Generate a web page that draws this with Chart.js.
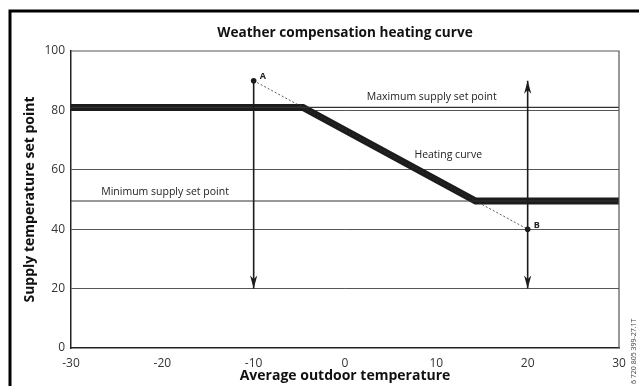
<!DOCTYPE html>
<html>
<head>
<meta charset="utf-8">
<script src="https://cdn.jsdelivr.net/npm/chart.js@4.4.1/dist/chart.umd.min.js"></script>
<style>
  html, body { margin: 0; padding: 0; background: #fff; }
</style>
</head>
<body>
<canvas id="curveChart" width="639" height="386"></canvas>
<script>
// axis ranges / ticks
const xTicks = [-30, -20, -10, 0, 10, 20, 30];
const yTicks = [0, 20, 40, 60, 80, 100];

// set points
const maxSupply = 81;
const minSupply = 49.5;

// heating curve (clipped between the set points)
const curveX = [-30, -4.6, 14.3, 30];
const curveY = [81, 81, 49.5, 49.5];

// design points A and B of the unclipped curve
const designX = [-10, 20];
const designY = [90, 40];
const designLabels = ['A', 'B'];

// vertical arrows
const arrowLeftX = [-10, -10];
const arrowLeftY = [90, 20];
const arrowRightX = [20, 20];
const arrowRightY = [90, 20];

const chartTitle = 'Weather compensation heating curve';

const toPts = (xs, ys) => xs.map((x, i) => ({ x: x, y: ys[i] }));

const FONT = "'Open Sans', 'DejaVu Sans', sans-serif";
const INK = '#1c1c1c';

// arrow heads, frame, title, labels
const decor = {
  id: 'decor',
  beforeDraw(chart) {
    const { ctx } = chart;
    ctx.save();
    ctx.strokeStyle = '#000';
    ctx.lineWidth = 3;
    ctx.beginPath();
    ctx.moveTo(10, 386);
    ctx.lineTo(10, 11);
    ctx.lineTo(639, 11);
    ctx.stroke();
    ctx.restore();
  },
  afterDatasetsDraw(chart) {
    const { ctx, chartArea: a, scales: { x, y } } = chart;
    ctx.save();
    // plot frame top/right
    ctx.strokeStyle = '#555';
    ctx.lineWidth = 1.2;
    ctx.beginPath();
    ctx.moveTo(a.left, a.top);
    ctx.lineTo(a.right, a.top);
    ctx.lineTo(a.right, a.bottom);
    ctx.stroke();

    // title centred over the plot
    ctx.fillStyle = '#111';
    ctx.textAlign = 'center';
    ctx.textBaseline = 'middle';
    ctx.font = 'bold 13.6px ' + FONT;
    ctx.fillText(chartTitle, (a.left + a.right) / 2, a.top - 18);

    // arrow heads
    chart.data.datasets.forEach((ds, i) => {
      if (!ds.arrowEnds) return;
      const pts = chart.getDatasetMeta(i).data;
      const head = (tip, from) => {
        let dx = tip.x - from.x, dy = tip.y - from.y;
        const l = Math.hypot(dx, dy); dx /= l; dy /= l;
        const len = 13, half = 3.6;
        const bx = tip.x - dx * len, by = tip.y - dy * len;
        ctx.fillStyle = INK;
        ctx.beginPath();
        ctx.moveTo(tip.x, tip.y);
        ctx.lineTo(bx - dy * half, by + dx * half);
        ctx.lineTo(tip.x - dx * len * 0.72, tip.y - dy * len * 0.72);
        ctx.lineTo(bx + dy * half, by - dx * half);
        ctx.closePath();
        ctx.fill();
      };
      if (ds.arrowEnds.includes('end')) head(pts[pts.length - 1], pts[pts.length - 2]);
      if (ds.arrowEnds.includes('start')) head(pts[0], pts[1]);
    });

    // text labels
    ctx.fillStyle = '#222';
    ctx.textAlign = 'center';
    ctx.font = '10.5px ' + FONT;
    ctx.fillText('Maximum supply set point', x.getPixelForValue(9.5), y.getPixelForValue(maxSupply) - 10);
    ctx.fillText('Minimum supply set point', x.getPixelForValue(-19.7), y.getPixelForValue(minSupply) - 9);
    ctx.fillText('Heating curve', x.getPixelForValue(11.3), y.getPixelForValue(65));

    ctx.font = 'bold 9px ' + FONT;
    ctx.textAlign = 'left';
    designLabels.forEach((t, i) => {
      ctx.fillText(t, x.getPixelForValue(designX[i]) + 6, y.getPixelForValue(designY[i]) - 4);
    });

    // drawing number along the right edge
    ctx.font = '7px ' + FONT;
    ctx.fillStyle = '#444';
    ctx.translate(634, 386);
    ctx.rotate(-Math.PI / 2);
    ctx.textAlign = 'left';
    ctx.fillText('6 720 805 399-27.1T', 2, 0);
    ctx.restore();
  }
};

new Chart(document.getElementById('curveChart'), {
  type: 'line',
  data: {
    datasets: [
      {
        data: toPts(designX, designY),
        borderColor: '#333',
        borderWidth: 0.8,
        borderDash: [2, 2],
        pointRadius: 2.8,
        pointBackgroundColor: INK,
        pointBorderWidth: 0
      },
      {
        data: toPts(arrowLeftX, arrowLeftY),
        borderColor: INK,
        borderWidth: 1.6,
        pointRadius: 0,
        arrowEnds: ['end']
      },
      {
        data: toPts(arrowRightX, arrowRightY),
        borderColor: INK,
        borderWidth: 1.6,
        pointRadius: 0,
        arrowEnds: ['start', 'end']
      },
      {
        data: toPts([xTicks[0], xTicks[xTicks.length - 1]], [maxSupply, maxSupply]),
        borderColor: '#333',
        borderWidth: 1.2,
        pointRadius: 0
      },
      {
        data: toPts([xTicks[0], xTicks[xTicks.length - 1]], [minSupply, minSupply]),
        borderColor: '#333',
        borderWidth: 1.2,
        pointRadius: 0
      },
      {
        data: toPts(curveX, curveY),
        borderColor: INK,
        borderWidth: 7,
        borderJoinStyle: 'miter',
        borderCapStyle: 'butt',
        pointRadius: 0
      }
    ]
  },
  options: {
    responsive: false,
    animation: false,
    layout: { padding: { top: 51, right: 20 } },
    plugins: {
      legend: { display: false },
      tooltip: { enabled: false },
      title: { display: false }
    },
    scales: {
      x: {
        type: 'linear',
        min: xTicks[0],
        max: xTicks[xTicks.length - 1],
        afterBuildTicks: s => { s.ticks = xTicks.map(v => ({ value: v })); },
        afterFit: s => { s.height = 38; },
        grid: { display: false, drawTicks: false },
        border: { color: '#222', width: 1.5 },
        ticks: { color: '#333', padding: 8, font: { family: FONT, size: 12 } },
        title: {
          display: true,
          text: 'Average outdoor temperature',
          color: '#111',
          font: { family: FONT, size: 14, weight: 'bold' },
          padding: { top: 0, bottom: 2 }
        }
      },
      y: {
        min: yTicks[0],
        max: yTicks[yTicks.length - 1],
        afterBuildTicks: s => { s.ticks = yTicks.map(v => ({ value: v })); },
        afterFit: s => { s.width = 71; },
        grid: {
          drawTicks: false,
          color: c => (c.tick.value === yTicks[0] || c.tick.value === yTicks[yTicks.length - 1]) ? 'rgba(0,0,0,0)' : '#555',
          lineWidth: 1
        },
        border: { color: '#222', width: 1.5 },
        ticks: { color: '#333', padding: 6, font: { family: FONT, size: 12 } },
        title: {
          display: true,
          text: 'Supply temperature set point',
          color: '#111',
          font: { family: FONT, size: 14, weight: 'bold' },
          padding: { top: 22, bottom: 0 }
        }
      }
    }
  },
  plugins: [decor]
});
</script>
</body>
</html>
